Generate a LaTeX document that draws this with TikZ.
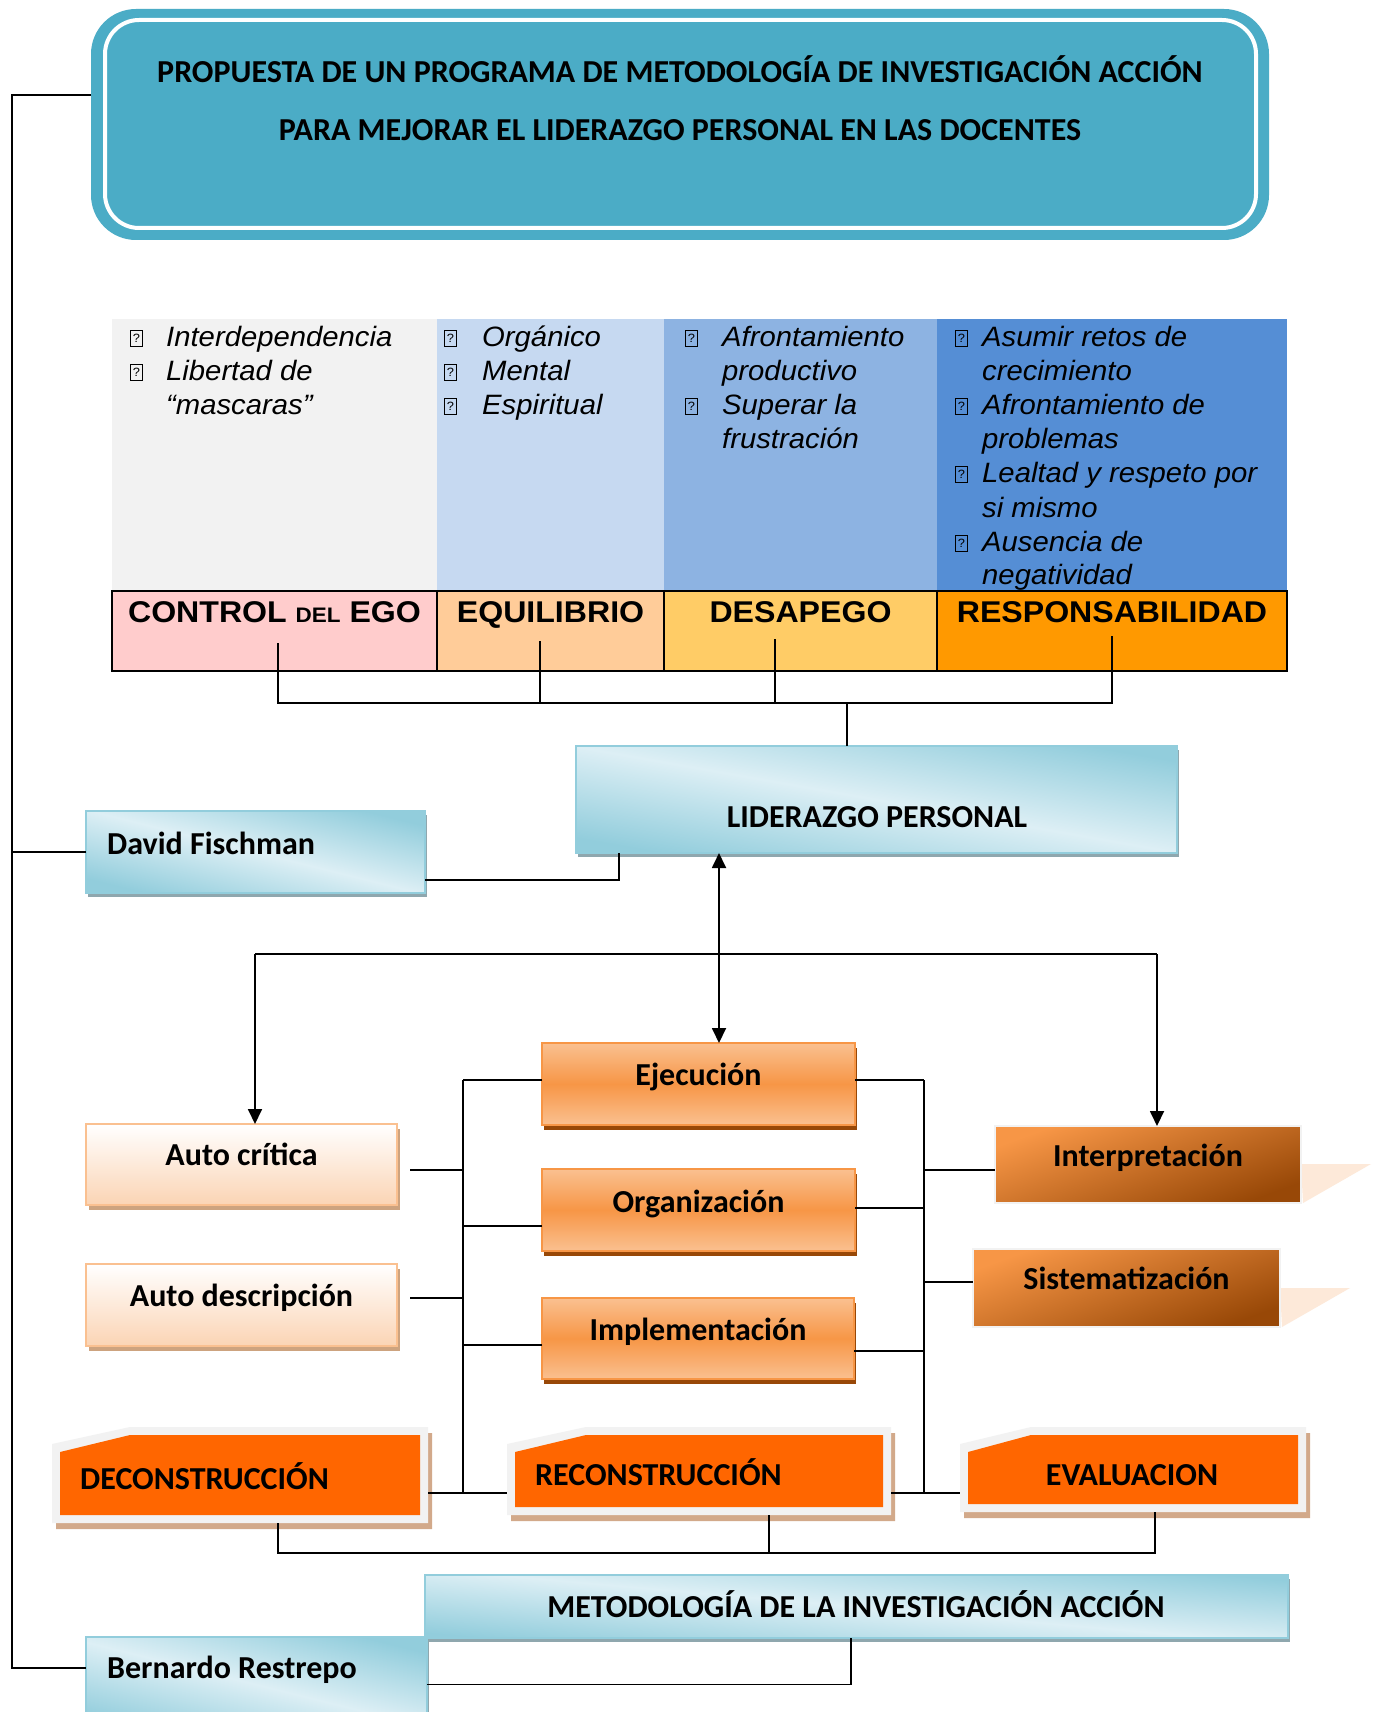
\documentclass[tikz,border=0pt]{standalone}
\usepackage{fontspec}
\setmainfont{Carlito}
\newfontfamily\arialf[FakeStretch=1.07]{Liberation Sans}
\newfontfamily\arialI[FakeStretch=1.045]{Liberation Sans}
\usetikzlibrary{shadows,arrows.meta}
\definecolor{ttlteal}{HTML}{4BACC6}
\definecolor{bluD}{HTML}{92CDDC}
\definecolor{bluL}{HTML}{DDEFF5}
\definecolor{bluS}{HTML}{8FA7AE}
\definecolor{orM}{HTML}{F79646}
\definecolor{orL}{HTML}{FAC090}
\definecolor{orS}{HTML}{984807}
\definecolor{peach}{HTML}{FBD4B4}
\definecolor{peachB}{HTML}{FAC090}
\definecolor{peachS}{HTML}{CDA37F}
\definecolor{brD}{HTML}{984807}
\definecolor{tailc}{HTML}{FDE9D9}
\definecolor{snipO}{HTML}{F2F2F2}
\definecolor{snipI}{HTML}{FF6600}
\definecolor{snipS}{HTML}{D2A98A}
\definecolor{colA}{HTML}{F2F2F2}
\definecolor{colB}{HTML}{C6D9F1}
\definecolor{colC}{HTML}{8DB3E2}
\definecolor{colD}{HTML}{558ED5}
\definecolor{hdA}{HTML}{FFCCCC}
\definecolor{hdB}{HTML}{FFCC99}
\definecolor{hdC}{HTML}{FFCC66}
\definecolor{hdD}{HTML}{FF9900}
\newcommand\snipbox[6]{%
  \fill[snipS] ({#2+4},{#3+23}) -- ({#6+4},{#3+6}) -- ({#4+4},{#3+6}) -- ({#4+4},{#5+6}) -- ({#2+4},{#5+6}) -- cycle;
  \fill[snipO] (#2,{#3+17}) -- (#6,#3) -- (#4,#3) -- (#4,#5) -- (#2,#5) -- cycle;
  \fill[snipI] ({#2+8},{#3+25}) -- (#6,{#3+8}) -- ({#4-8},{#3+8}) -- ({#4-8},{#5-8}) -- ({#2+8},{#5-8}) -- cycle;
  \node[boxbase, minimum width={(#4-#2)*1pt}, minimum height={(#5-#3)*1pt}] (#1) at (#2,#3) {};
}
\tikzset{
  conn/.style={line width=1.8pt, draw=black},
  tip/.style={-{Triangle[width=14pt,length=15pt]}},
  dbl/.style={{Triangle[width=14pt,length=15pt]}-{Triangle[width=14pt,length=15pt]}},
  cal/.style={font=\bfseries\fontsize{32}{38}\selectfont},
  txt/.style={cal, anchor=base, inner sep=0pt},
  txtw/.style={cal, anchor=base west, inner sep=0pt},
  boxbase/.style={inner sep=0pt, outer sep=0pt, anchor=north west},
  bluebox/.style={boxbase, draw=bluD, line width=2pt, top color=bluD, bottom color=bluD, middle color=bluL, shading angle=#1, general shadow={fill=bluS, shadow xshift=2pt, shadow yshift=-4pt}},
  bluebox/.default=-10,
  ormid/.style={boxbase, draw=orM, line width=2pt, top color=orL, bottom color=orL, middle color=orM, general shadow={fill=orS, shadow xshift=2pt, shadow yshift=-5pt}},
  autobox/.style={boxbase, draw=peachB, line width=2pt, top color=white, bottom color=peach, general shadow={fill=peachS, shadow xshift=3pt, shadow yshift=-5pt}},
  intbox/.style={boxbase, draw=snipO, line width=2pt, top color=orM, bottom color=brD, shading angle=20},
  hdbox/.style={boxbase, draw=black, line width=2pt, minimum height=80pt},
  hdtxt/.style={anchor=base, inner sep=0pt, font=\arialf\bfseries\fontsize{30}{36}\selectfont},
  item/.style={anchor=base west, inner sep=0pt, font=\arialI\itshape\fontsize{28}{34}\selectfont},
  qbox/.style={anchor=south west, draw=black, line width=0.9pt, inner sep=0pt, minimum width=12pt, minimum height=16pt, font=\arialf\fontsize{12}{12}\selectfont},
}
\begin{document}
\begin{tikzpicture}[x=1pt,y=-1pt]
\useasboundingbox (0,0) rectangle (1380,1712);
\fill[white] (0,0) rectangle (1380,1712);

% ---------- title
\node[boxbase, fill=ttlteal, rounded corners=45pt, minimum width=1178pt, minimum height=231pt] (ttl) at (91,9) {};
\draw[white, line width=4pt, rounded corners=34pt] (105,20) rectangle (1256,228);
\node[txt] (ttl1) at (680,83) {PROPUESTA DE UN PROGRAMA DE METODOLOGÍA DE INVESTIGACIÓN ACCIÓN};
\node[txt] (ttl2) at (680,141) {PARA MEJORAR EL LIDERAZGO PERSONAL EN LAS DOCENTES};

% ---------- table
\fill[colA] (112,319) rectangle (437,591);
\fill[colB] (437,319) rectangle (664,591);
\fill[colC] (664,319) rectangle (937,591);
\fill[colD] (937,319) rectangle (1287,591);
\node[hdbox, fill=hdA, minimum width=325pt] (hA) at (112,591) {};
\node[hdbox, fill=hdB, minimum width=227pt] (hB) at (437,591) {};
\node[hdbox, fill=hdC, minimum width=273pt] (hC) at (664,591) {};
\node[hdbox, fill=hdD, minimum width=350pt] (hD) at (937,591) {};
\node[hdtxt] (hAt) at (274.5,622) {CONTROL {\fontsize{21}{21}\selectfont DEL} EGO};
\node[hdtxt] (hBt) at (550.5,622) {EQUILIBRIO};
\node[hdtxt] (hCt) at (800.5,622) {DESAPEGO};
\node[hdtxt] (hDt) at (1112,622) {RESPONSABILIDAD};

\foreach \x/\y [count=\i] in {130/347,130/381,444/347,444/381,444/415,685/347,685/415,955/347,955/415,955/483,955/552}
  \node[qbox] (bul\i) at (\x,\y) {?};
\foreach \x/\y/\t [count=\i] in {
  166/346/Interdependencia, 166/380/Libertad de, 166/414/“mascaras”,
  482/346/Orgánico, 482/380/Mental, 482/414/Espiritual,
  722/346/Afrontamiento, 722/380/productivo, 722/414/Superar la, 722/448/frustración,
  982/346/Asumir retos de, 982/380/crecimiento, 982/414/Afrontamiento de, 982/448/problemas,
  982/482/Lealtad y respeto por, 982/517/si mismo, 982/551/Ausencia de, 982/584/negatividad}
  \node[item] (itm\i) at (\x,\y) {\t};

% ---------- blue boxes
\node[bluebox=-10, minimum width=601pt, minimum height=107pt] (lid) at (576,746) {};
\node[txt] (lidT) at (877,827) {LIDERAZGO PERSONAL};
\node[bluebox=-14, minimum width=339pt, minimum height=82pt] (dav) at (86,811) {};
\node[txtw] (davT) at (107,854) {David Fischman};
\node[bluebox=-5, minimum width=863pt, minimum height=63pt] (met) at (425,1575) {};
\node[txt] (metT) at (856,1617) {METODOLOGÍA DE LA INVESTIGACIÓN ACCIÓN};
\node[bluebox=-14, minimum width=341pt, minimum height=95pt] (ber) at (86,1637) {};
\node[txtw] (berT) at (107,1678) {Bernardo Restrepo};

% ---------- middle boxes
\node[autobox, minimum width=311pt, minimum height=81pt] (acr) at (86,1124) {};
\node[txt] (acrT) at (241.5,1165) {Auto crítica};
\node[autobox, minimum width=311pt, minimum height=82pt] (ade) at (86,1264) {};
\node[txt] (adeT) at (241.5,1306) {Auto descripción};
\node[ormid, minimum width=313pt, minimum height=82pt] (eje) at (542,1043) {};
\node[txt] (ejeT) at (698.5,1085) {Ejecución};
\node[ormid, minimum width=313pt, minimum height=82pt] (org) at (542,1169) {};
\node[txt] (orgT) at (698.5,1212) {Organización};
\node[ormid, minimum width=312pt, minimum height=81pt] (imp) at (542,1298) {};
\node[txt] (impT) at (698,1340) {Implementación};
\fill[tailc] (1301,1164) -- (1371,1164) -- (1303,1203) -- cycle;
\node[intbox, minimum width=306pt, minimum height=77pt] (int) at (995,1126) {};
\node[txt] (intT) at (1148,1166) {Interpretación};
\fill[tailc] (1280,1288) -- (1350,1288) -- (1282,1327) -- cycle;
\node[intbox, minimum width=307pt, minimum height=78pt] (sis) at (973,1249) {};
\node[txt] (sisT) at (1126.5,1289) {Sistematización};

% ---------- snipped boxes
\snipbox{dec}{52}{1427}{428}{1523}{130}
\node[txtw] (decT) at (80,1489) {DECONSTRUCCIÓN};
\snipbox{rec}{507}{1427}{891}{1515}{586}
\node[txtw] (recT) at (535,1485) {RECONSTRUCCIÓN};
\snipbox{eva}{960}{1427}{1306}{1512}{1031}
\node[txt] (evaT) at (1132,1485) {EVALUACION};

% ---------- connectors
\coordinate (lb) at (12,1668);
\draw[conn] ([yshift=29.5pt]ttl.west) -| (lb) -- (lb -| ber.west);
\draw[conn] (dav.west) -- (dav.west -| lb);

\coordinate (hAs) at (278,643);
\coordinate (hBs) at (540,641);
\coordinate (hCs) at (775,639);
\coordinate (hDs) at (1112,636);
\coordinate (jt) at (847,703);
\draw[conn] (hAs) |- (hDs |- jt) -- (hDs);
\draw[conn] (hBs) -- (hBs |- jt);
\draw[conn] (hCs) -- (hCs |- jt);
\draw[conn] (jt) -- (jt |- lid.north);

\draw[conn] ([yshift=-28pt]dav.east) -| ([xshift=43pt]lid.south west);

\coordinate (ax) at (719,954);
\draw[conn, dbl] (lid.south -| ax) -- (eje.north -| ax);
\coordinate (lft) at (255,954);
\coordinate (rgt) at (1157,954);
\draw[conn] (lft) -- (rgt);
\draw[conn, tip] (lft) -- (lft |- acr.north);
\draw[conn, tip] (rgt) -- (rgt |- int.north);

\coordinate (lvt) at (463,1080);
\coordinate (lvb) at (463,1493);
\coordinate (rvt) at (924,1080);
\coordinate (rvb) at (924,1493);
\draw[conn] (lvt) -- (lvb);
\draw[conn] (rvt) -- (rvb);
\draw[conn] (eje.west |- lvt) -- (lvt);
\draw[conn] (eje.east |- rvt) -- (rvt);
\coordinate (acrO) at (410,1170);
\draw[conn] (acrO) -- (acrO -| lvt);
\coordinate (adeO) at (410,1298);
\draw[conn] (adeO) -- (adeO -| lvt);
\coordinate (yOL) at (0,1226);
\coordinate (yOR) at (0,1208);
\coordinate (yIL) at (0,1345);
\coordinate (yIR) at (0,1351);
\coordinate (yInt) at (0,1170);
\coordinate (ySis) at (0,1282);
\draw[conn] (org.west |- yOL) -- (lvt |- yOL);
\draw[conn] (org.east |- yOR) -- (rvt |- yOR);
\draw[conn] (imp.west |- yIL) -- (lvt |- yIL);
\draw[conn] (imp.east |- yIR) -- (rvt |- yIR);
\draw[conn] (rvt |- yInt) -- (int.west |- yInt);
\draw[conn] (rvt |- ySis) -- (sis.west |- ySis);
\draw[conn] (dec.east |- lvb) -- (rec.west |- lvb);
\draw[conn] (rec.east |- rvb) -- (eva.west |- rvb);

\coordinate (bbl) at (278,1553);
\coordinate (bbm) at (769,1553);
\coordinate (bbr) at (1155,1553);
\draw[conn] (dec.south -| bbl) -- (bbl) -- (bbr) -- (eva.south -| bbr);
\draw[conn] (rec.south -| bbm) -- (bbm);

\draw[conn] (ber.east) -| ([xshift=-5.5pt]met.south);
\end{tikzpicture}
\end{document}
